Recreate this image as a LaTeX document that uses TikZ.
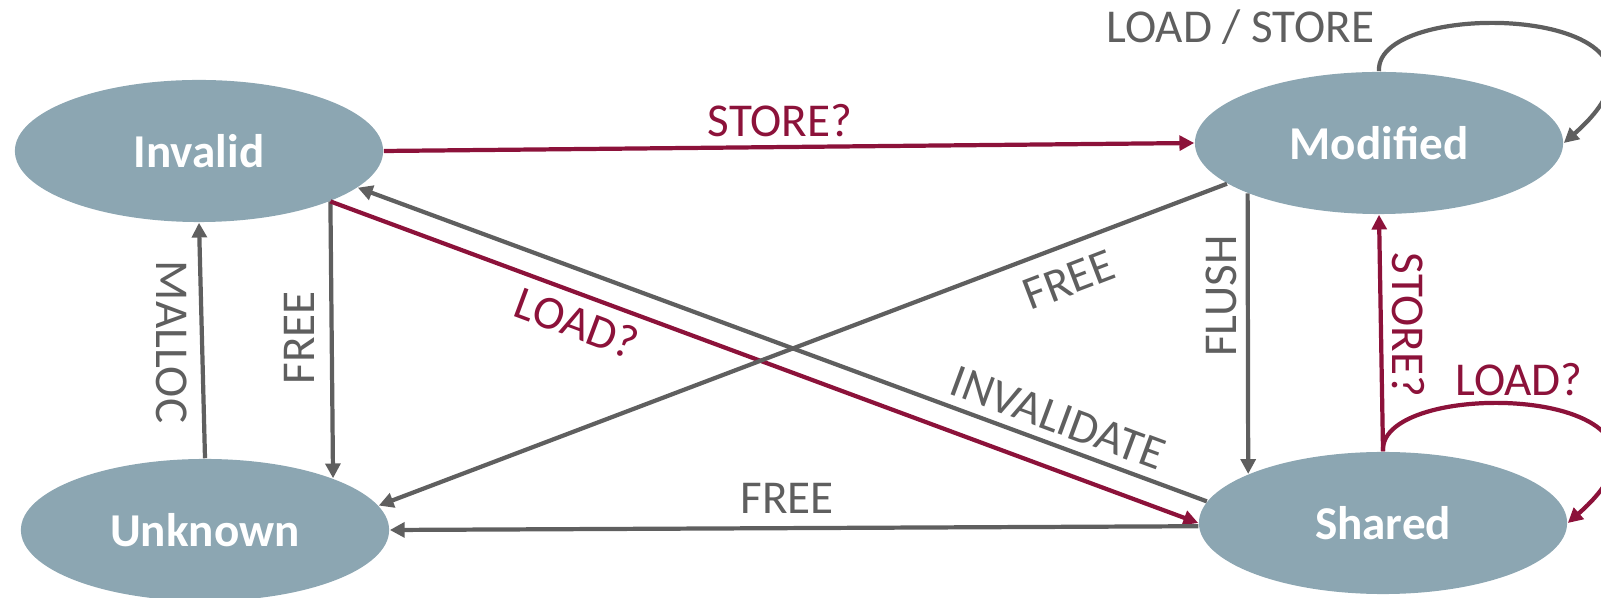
\documentclass[tikz,border=0pt]{standalone}
\usepackage{fontspec}
\setmainfont{Carlito}
\usetikzlibrary{shapes.geometric,arrows.meta}
\definecolor{statefill}{RGB}{140,166,178}
\definecolor{lineg}{RGB}{95,95,95}
\definecolor{liner}{RGB}{140,18,58}
\begin{document}
\begin{tikzpicture}[x=0.01cm,y=-0.01cm,
    state/.style={ellipse, fill=statefill, minimum width=3.68cm, minimum height=1.42cm,
      inner sep=0pt, text=white, font=\fontsize{13.4}{16}\selectfont\bfseries},
    gline/.style={draw=lineg, line width=1.2pt, -{Triangle[length=4.2pt,width=4.2pt]}},
    rline/.style={draw=liner, line width=1.2pt, -{Triangle[length=4.2pt,width=4.2pt]}},
    glabel/.style={text=lineg, inner sep=0pt, font=\fontsize{13.4}{16}\selectfont},
    rlabel/.style={text=liner, inner sep=0pt, font=\fontsize{13.4}{16}\selectfont}]
  \useasboundingbox (0,0) rectangle (1601,598);

    % states
    \node[state] (inv) at (199,151) {Invalid};
    \node[state] (unk) at (205,530) {Unknown};
    \node[state] (mod) at (1379,143) {Modified};
    \node[state] (sh) at (1383,523) {Shared};

    % Invalid <-> Unknown
    \draw[gline] (unk.north) -- (inv.south);
    \node[glabel, rotate=-90] (lmalloc) at (172,342) {MALLOC};
    \draw[gline] (inv.-21) -- (unk.22);
    \node[glabel, rotate=90] (lfree1) at (299,338) {FREE};

    % Invalid -> Modified / Shared
    \draw[rline] (inv.east) -- (mod.west);
    \node[rlabel] (lstore1) at (780,121) {STORE?};
    \draw[rline] (inv.-21) -- (sh.west);
    \node[rlabel, rotate=-20.4] (lload1) at (577,323) {LOAD?};

    % Modified
    \draw[gline] (mod.north) .. controls +(-5,-77) and +(157,-138) .. (mod.east);
    \node[glabel, anchor=east] (lls) at (1375,27) {LOAD / STORE};
    \draw[gline] (mod.-159) -- (sh.160);
    \node[glabel, rotate=90] (lflush) at (1221,296) {FLUSH};
    \draw[gline] (mod.195) -- (unk.8);
    \node[glabel, rotate=20.9] (lfree2) at (1069,280) {FREE};

    % Shared
    \draw[rline] (sh.north) -- (mod.south);
    \node[rlabel, rotate=-90] (lstore2) at (1408,325) {STORE?};
    \draw[rline] (sh.north) .. controls +(-5,-77) and +(157,-138) .. (sh.east);
    \node[rlabel] (lload2) at (1519,380) {LOAD?};
    \draw[gline] (sh.173) -- (inv.-13);
    \node[glabel, rotate=-20.3] (linv) at (1058,418) {INVALIDATE};
    \draw[gline] (sh.181) -- (unk.east);
    \node[glabel] (lfree3) at (787,498) {FREE};

  \end{tikzpicture}
\end{document}
